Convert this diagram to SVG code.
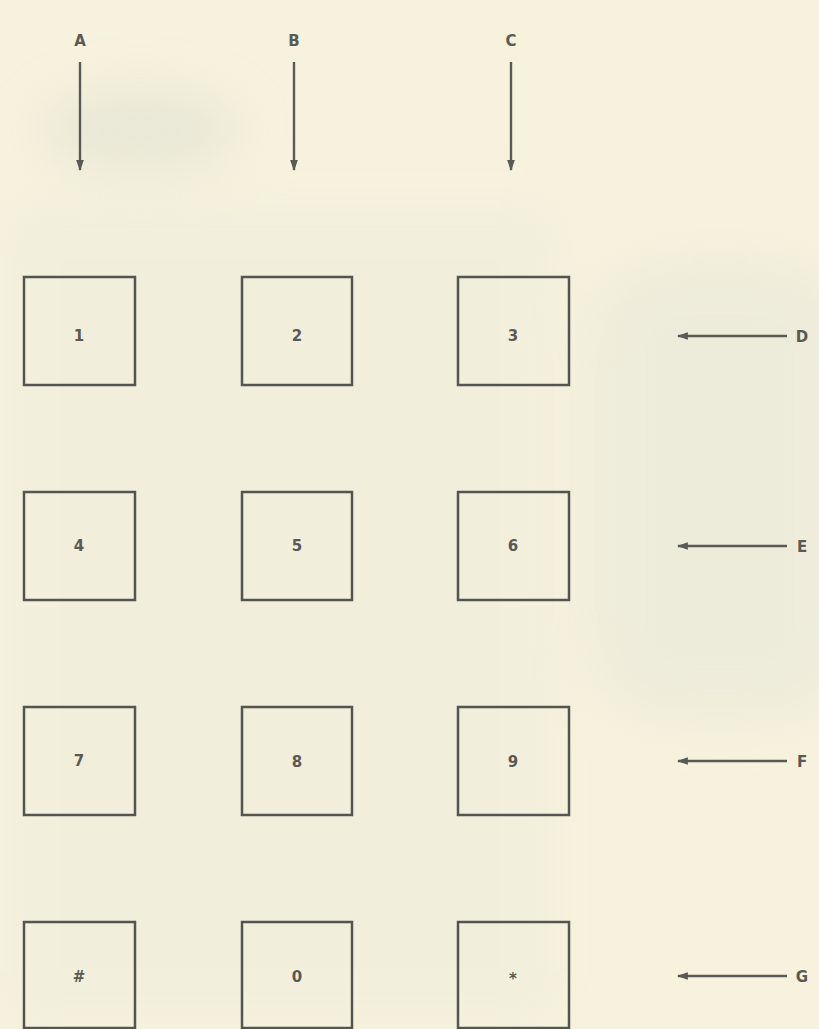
<svg xmlns="http://www.w3.org/2000/svg" width="819" height="1029" viewBox="0 0 819 1029">
<defs>
<marker id="ah" viewBox="0 0 10 10" refX="9" refY="5" markerWidth="11" markerHeight="11" markerUnits="userSpaceOnUse" orient="auto">
<path d="M0,1.5 L10,5 L0,8.5 z" fill="#5a5a55"/>
</marker>
<filter id="blur" x="-50%" y="-50%" width="200%" height="200%"><feGaussianBlur stdDeviation="25"/></filter>
</defs>
<style>
.key{fill:none;stroke:#55554f;stroke-width:2.5}
.lbl{font-family:"DejaVu Sans","Liberation Sans",sans-serif;font-size:15px;fill:#5a5a55;text-anchor:middle;font-weight:bold}
.wire{stroke:#5a5a55;stroke-width:2.4;fill:none;marker-end:url(#ah)}
</style>
<rect width="819" height="1029" fill="#f6f2dd"/>
<g filter="url(#blur)" opacity="0.5">
<ellipse cx="140" cy="130" rx="100" ry="40" fill="#dcdccf"/>
<rect x="590" y="260" width="260" height="460" rx="80" fill="#e6e5d8"/>
<rect x="0" y="200" width="560" height="829" fill="#eeecdc"/>
</g>
<g id="connectors">
<line class="wire" x1="80" y1="62" x2="80" y2="170"/>
<line class="wire" x1="294" y1="62" x2="294" y2="170"/>
<line class="wire" x1="511" y1="62" x2="511" y2="170"/>
<line class="wire" x1="787" y1="336" x2="678" y2="336"/>
<line class="wire" x1="787" y1="546" x2="678" y2="546"/>
<line class="wire" x1="787" y1="761" x2="678" y2="761"/>
<line class="wire" x1="787" y1="976" x2="678" y2="976"/>
</g>
<g id="labelA"><text class="lbl" x="80" y="46">A</text></g>
<g id="labelB"><text class="lbl" x="294" y="46">B</text></g>
<g id="labelC"><text class="lbl" x="511" y="46">C</text></g>
<g id="labelD"><text class="lbl" x="802" y="342">D</text></g>
<g id="labelE"><text class="lbl" x="802" y="552">E</text></g>
<g id="labelF"><text class="lbl" x="802" y="767">F</text></g>
<g id="labelG"><text class="lbl" x="802" y="982">G</text></g>
<g id="key1"><rect class="key" x="24" y="277" width="111" height="108"/><text class="lbl" x="79" y="341">1</text></g>
<g id="key2"><rect class="key" x="242" y="277" width="110" height="108"/><text class="lbl" x="297" y="341">2</text></g>
<g id="key3"><rect class="key" x="458" y="277" width="111" height="108"/><text class="lbl" x="513" y="341">3</text></g>
<g id="key4"><rect class="key" x="24" y="492" width="111" height="108"/><text class="lbl" x="79" y="551">4</text></g>
<g id="key5"><rect class="key" x="242" y="492" width="110" height="108"/><text class="lbl" x="297" y="551">5</text></g>
<g id="key6"><rect class="key" x="458" y="492" width="111" height="108"/><text class="lbl" x="513" y="551">6</text></g>
<g id="key7"><rect class="key" x="24" y="707" width="111" height="108"/><text class="lbl" x="79" y="766">7</text></g>
<g id="key8"><rect class="key" x="242" y="707" width="110" height="108"/><text class="lbl" x="297" y="767">8</text></g>
<g id="key9"><rect class="key" x="458" y="707" width="111" height="108"/><text class="lbl" x="513" y="767">9</text></g>
<g id="keyHash"><rect class="key" x="24" y="922" width="111" height="106"/><text class="lbl" x="79" y="982">#</text></g>
<g id="key0"><rect class="key" x="242" y="922" width="110" height="106"/><text class="lbl" x="297" y="982">0</text></g>
<g id="keyStar"><rect class="key" x="458" y="922" width="111" height="106"/><text class="lbl" x="513" y="984">*</text></g>
</svg>
